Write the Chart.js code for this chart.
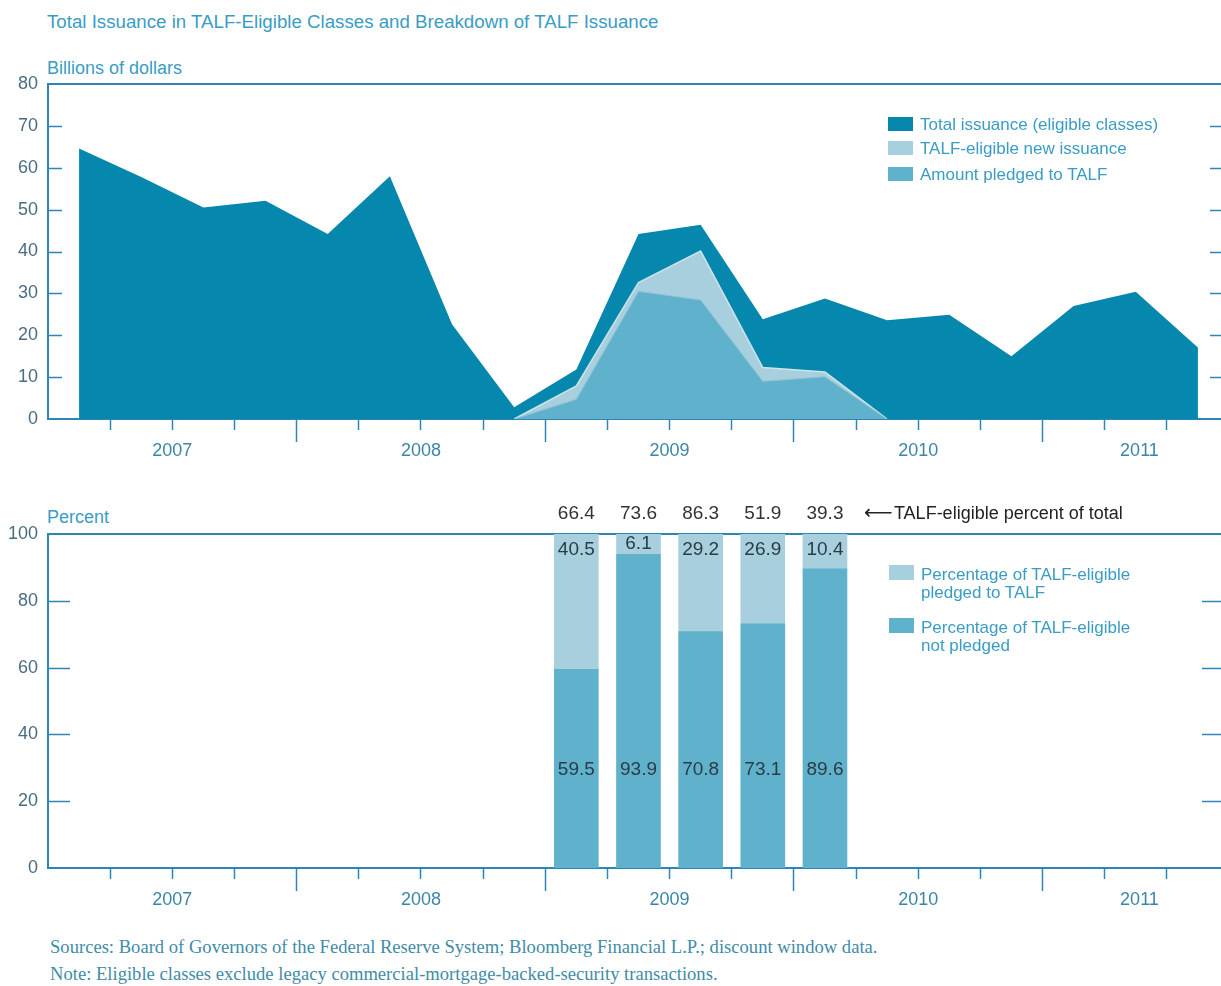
<!DOCTYPE html>
<html><head><meta charset="utf-8">
<script src="https://cdn.jsdelivr.net/npm/chart.js@4.4.1/dist/chart.umd.min.js"></script>
<style>
html,body{margin:0;padding:0;background:#fff;}
body{width:1221px;height:986px;overflow:hidden;position:relative;font-family:"Liberation Sans",Arial,sans-serif;}
.abs{position:absolute;white-space:nowrap;}
#title{left:47px;top:11px;font-size:18.7px;color:#3a9cc4;}
.unit{font-size:18px;color:#3a9cc4;}
.lg{font-size:17px;color:#3a9cc4;line-height:18px;}
.box{position:absolute;width:25px;height:14px;}
.note{left:50px;font-family:"Liberation Serif","Times New Roman",serif;font-size:18.6px;color:#3f8ca8;}
canvas{position:absolute;left:0;}
</style></head><body>
<div id="title" class="abs">Total Issuance in TALF-Eligible Classes and Breakdown of TALF Issuance</div>
<div class="abs unit" style="left:47px;top:58px;">Billions of dollars</div>
<div class="abs unit" style="left:47px;top:507px;">Percent</div>
<canvas id="c1" width="1260" height="470" style="top:0;width:1260px;height:470px;"></canvas>
<canvas id="c2" width="1260" height="449" style="top:470px;width:1260px;height:449px;"></canvas>

<div class="box" style="left:888px;top:117px;background:#0687ad;"></div>
<div class="abs lg" style="left:920px;top:116px;">Total issuance (eligible classes)</div>
<div class="box" style="left:888px;top:141px;background:#a8cfdd;"></div>
<div class="abs lg" style="left:920px;top:140px;">TALF-eligible new issuance</div>
<div class="box" style="left:888px;top:167px;background:#60b1cb;"></div>
<div class="abs lg" style="left:920px;top:166px;">Amount pledged to TALF</div>

<div class="box" style="left:889px;top:565px;height:15px;background:#a8cfdd;"></div>
<div class="abs lg" style="left:921px;top:566px;">Percentage of TALF-eligible<br>pledged to TALF</div>
<div class="box" style="left:889px;top:618px;height:15px;background:#60b1cb;"></div>
<div class="abs lg" style="left:921px;top:619px;">Percentage of TALF-eligible<br>not pledged</div>

<div class="abs note" style="top:936px;">Sources: Board of Governors of the Federal Reserve System; Bloomberg Financial L.P.; discount window data.</div>
<div class="abs note" style="top:963px;">Note: Eligible classes exclude legacy commercial-mortgage-backed-security transactions.</div>

<script>
// ---------- data ----------
const quarters = ['2007 Q1','2007 Q2','2007 Q3','2007 Q4','2008 Q1','2008 Q2','2008 Q3','2008 Q4',
  '2009 Q1','2009 Q2','2009 Q3','2009 Q4','2010 Q1','2010 Q2','2010 Q3','2010 Q4','2011 Q1','2011 Q2','2011 Q3'];
const years = ['2007','2008','2009','2010','2011'];
const totalIssuance    = [64.6,57.8,50.5,52.1,44.2,58.0,22.6,2.8,11.8,44.2,46.4,23.8,28.8,23.6,24.9,15.0,27.0,30.4,17.1];
const eligibleIssuance = [null,null,null,null,null,null,null,0,7.9,32.6,40.1,12.3,11.2,0,null,null,null,null,null];
const pledgedAmount    = [null,null,null,null,null,null,null,0,4.7,30.5,28.4,9.0,10.1,0,null,null,null,null,null];
const barQuarters = ['2009 Q1','2009 Q2','2009 Q3','2009 Q4','2010 Q1'];
const eligiblePctOfTotal = [66.4,73.6,86.3,51.9,39.3];
const pctPledged    = [40.5,6.1,29.2,26.9,10.4];
const pctNotPledged = [59.5,93.9,70.8,73.1,89.6];
const issuanceTicks = [0,10,20,30,40,50,60,70,80];
const percentTicks  = [0,20,40,60,80,100];

// ---------- style ----------
const FONT = '"Liberation Sans", Arial, sans-serif';
const AXIS = '#2e86b6';
const DARK = '#0687ad', LIGHT = '#a8cfdd', MED = '#60b1cb';
const XMAX = 18.92;

function pts(arr){ return arr.map((v,i)=>({x:i+0.5, y:v})); }
function barPts(arr){ return arr.map((v,i)=>({x:quarters.indexOf(barQuarters[i])+0.5, y:v})); }

function xScales(){
  return {
    x: { type:'linear', position:'bottom', min:0, max:XMAX, weight:0, stacked:true, offset:false,
      afterBuildTicks: s => { s.ticks = quarters.map((q,i)=>({value:i})).filter(t=>t.value>0); },
      ticks:{display:false},
      grid:{display:true, offset:false, drawOnChartArea:false, drawTicks:true, tickLength:23, tickWidth:1.5, tickColor:AXIS,
        tickBorderDash: c => (c.tick && c.tick.value % 4 === 0) ? [] : [10, 60]},
      border:{display:true, color:AXIS, width:2},
      afterFit: s => { s.height = 20; } },
    xLab: { type:'linear', position:'bottom', min:0, max:XMAX, weight:1, offset:false,
      afterBuildTicks: s => { s.ticks = years.map((y,i)=>({value:(Math.max(4*i,0)+Math.min(4*i+4,XMAX+0.2))/2})); },
      ticks:{autoSkip:false, maxRotation:0, minRotation:0, padding:1, color:'#3b86a8',
        font:{family:FONT, size:18}, callback:(v,i)=>years[i]},
      grid:{display:false, drawTicks:false, offset:false}, border:{display:false},
      afterFit: s => { s.height = 31; } },
    xTop: { type:'linear', position:'top', min:0, max:XMAX, offset:false,
      ticks:{display:false}, grid:{display:false, drawTicks:false, offset:false},
      border:{display:true, color:AXIS, width:2},
      afterFit: s => { s.height = 0; } }
  };
}
function yScales(max, tickArr, stacked){
  return {
    y: { type:'linear', position:'left', min:0, max:max, stacked:stacked,
      afterBuildTicks: s => { s.ticks = tickArr.map(v=>({value:v})); },
      ticks:{padding:10, color:'#4a6e80', font:{family:FONT, size:18}},
      grid:{display:false, drawTicks:false}, border:{display:true, color:AXIS, width:2},
      afterFit: s => { s.width = 48; } },
    yRight: { type:'linear', position:'right', min:0, max:max,
      ticks:{display:false}, grid:{display:false, drawTicks:false},
      border:{display:true, color:AXIS, width:2},
      afterFit: s => { s.width = 0; } }
  };
}

const innerTicks = {
  id:'innerTicks',
  afterDraw(chart, args, opts){
    const {ctx, chartArea:a} = chart; const ys = chart.scales.y;
    ctx.save(); ctx.strokeStyle = AXIS; ctx.lineWidth = 1.5;
    ys.ticks.forEach(t => {
      if (t.value <= ys.min || t.value >= ys.max) return;
      const py = Math.round(ys.getPixelForValue(t.value)) + 0.5;
      ctx.beginPath();
      ctx.moveTo(a.left, py); ctx.lineTo(a.left + opts.len, py);
      ctx.moveTo(a.right - opts.len, py); ctx.lineTo(a.right, py);
      ctx.stroke();
    });
    ctx.restore();
  }
};

const barLabels = {
  id:'barLabels',
  afterDatasetsDraw(chart){
    const {ctx, chartArea:a} = chart; const ys = chart.scales.y;
    const meta = chart.getDatasetMeta(0);
    ctx.save();
    ctx.textAlign = 'center'; ctx.textBaseline = 'middle';
    ctx.font = '19px ' + FONT;
    meta.data.forEach((bar, i) => {
      ctx.fillStyle = '#2a3d47';
      ctx.fillText(pctNotPledged[i].toFixed(1), bar.x, ys.getPixelForValue(29.3));
      const topVal = Math.max(95.3, pctNotPledged[i] + pctPledged[i]/2);
      ctx.fillText(pctPledged[i].toFixed(1), bar.x, ys.getPixelForValue(topVal));
      ctx.fillStyle = '#333';
      ctx.fillText(eligiblePctOfTotal[i].toFixed(1), bar.x, a.top - 20);
    });
    const last = meta.data[meta.data.length - 1];
    ctx.textAlign = 'left'; ctx.fillStyle = '#222';
    ctx.font = '20px "DejaVu Sans", sans-serif';
    ctx.fillText('\u27F5', last.x + 39, a.top - 20);
    ctx.font = '18px ' + FONT;
    ctx.fillText('TALF-eligible percent of total', last.x + 69, a.top - 20);
    ctx.restore();
  }
};

new Chart(document.getElementById('c1'), {
  type:'line',
  data:{ datasets:[
    {label:'Amount pledged to TALF', data:pts(pledgedAmount), xAxisID:'x', yAxisID:'y',
      backgroundColor:MED, borderColor:'#8fc4d7', borderWidth:1, fill:'origin', pointRadius:0, tension:0},
    {label:'TALF-eligible new issuance', data:pts(eligibleIssuance), xAxisID:'x', yAxisID:'y',
      backgroundColor:LIGHT, borderColor:'#cde3eb', borderWidth:1.5, fill:'origin', pointRadius:0, tension:0},
    {label:'Total issuance (eligible classes)', data:pts(totalIssuance), xAxisID:'x', yAxisID:'y',
      backgroundColor:DARK, borderColor:DARK, borderWidth:0, fill:'origin', pointRadius:0, tension:0}
  ]},
  options:{
    responsive:false, animation:false, devicePixelRatio:1,
    layout:{padding:{top:84, right:36, left:0, bottom:0}},
    plugins:{legend:{display:false}, tooltip:{enabled:false}, innerTicks:{len:14}},
    scales:Object.assign(xScales(), yScales(80, issuanceTicks, false))
  },
  plugins:[innerTicks]
});

new Chart(document.getElementById('c2'), {
  type:'bar',
  data:{ datasets:[
    {label:'Percentage of TALF-eligible not pledged', data:barPts(pctNotPledged), xAxisID:'x', yAxisID:'y',
      backgroundColor:MED, borderWidth:0, barThickness:44},
    {label:'Percentage of TALF-eligible pledged to TALF', data:barPts(pctPledged), xAxisID:'x', yAxisID:'y',
      backgroundColor:LIGHT, borderWidth:0, barThickness:44}
  ]},
  options:{
    responsive:false, animation:false, devicePixelRatio:1,
    layout:{padding:{top:64, right:36, left:0, bottom:0}},
    plugins:{legend:{display:false}, tooltip:{enabled:false}, innerTicks:{len:22}},
    scales:Object.assign(xScales(), yScales(100, percentTicks, true))
  },
  plugins:[innerTicks, barLabels]
});
</script>
</body></html>
